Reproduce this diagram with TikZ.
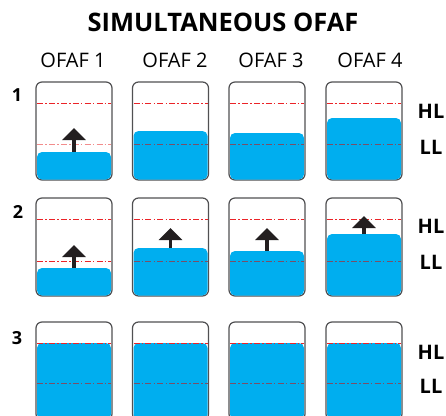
\documentclass[tikz,border=0pt]{standalone}
\usepackage{fontspec}
\setmainfont{Open Sans}
\definecolor{tankgray}{RGB}{80,80,82}
\definecolor{waterblue}{RGB}{0,174,239}
\definecolor{levelred}{RGB}{235,35,40}
\definecolor{levelpink}{RGB}{242,140,140}
\definecolor{leveldark}{RGB}{120,80,105}
\definecolor{arrowblack}{RGB}{35,31,32}
\usetikzlibrary{positioning,calc,arrows.meta}

\begin{document}
\begin{tikzpicture}[x=1pt,y=-1pt,
    tank/.style={draw=tankgray,line width=1.2pt,rounded corners=6pt,minimum width=76pt,minimum height=98pt,inner sep=0pt,outer sep=0pt},
    water/.style={fill=waterblue,rounded corners=5pt,minimum width=74pt,inner sep=0pt,outer sep=0pt,anchor=south},
    levelline/.style={draw=#1,line width=1pt,dash pattern=on 6pt off 2.2pt on 1.5pt off 2.2pt},
    rise/.style={draw=arrowblack,line width=3.6pt,-{Triangle[width=23pt,length=12pt]}},
    rowlabel/.style={font=\fontsize{18}{21}\selectfont\bfseries},
    sidelabel/.style={font=\fontsize{20}{24}\selectfont\bfseries},
    collabel/.style={font=\fontsize{20}{24}\selectfont}]
    \useasboundingbox (0,0) rectangle (446,415);

    \node[font=\fontsize{25.5}{30}\selectfont\bfseries] (title) at (223,22) {SIMULTANEOUS OFAF};
    \node[collabel] (ofaf1) at (73,60) {OFAF 1};
    \node[collabel] (ofaf2) at (175,60) {OFAF 2};
    \node[collabel] (ofaf3) at (271,60) {OFAF 3};
    \node[collabel] (ofaf4) at (370,60) {OFAF 4};

    % row 1
    \foreach \c/\x/\w/\lc in {1/74/152/levelpink,2/170.5/131/leveldark,3/267/133/leveldark,4/364/118/leveldark}{
        \node[tank] (t1\c) at (\x,131) {};
        \node[water,minimum height={179.5-\w}] (w1\c) at ($(t1\c.south)+(0,-0.5)$) {};
        \draw[levelline=levelred] ($(t1\c.north west)+(1,21.5)$) -- ($(t1\c.north east)+(-1,21.5)$);
        \draw[levelline=\lc] ($(t1\c.north west)+(1,62.5)$) -- ($(t1\c.north east)+(-1,62.5)$);
    }
    \coordinate (a11) at ($(w11.north)+(0,-24)$);
    \draw[rise] (w11.north) -- (a11);

    % row 2
    \foreach \c/\x/\w/\lc in {1/74/268/levelred,2/170.5/248/leveldark,3/267/251/leveldark,4/364/234/leveldark}{
        \node[tank] (t2\c) at (\x,247) {};
        \node[water,minimum height={295.5-\w}] (w2\c) at ($(t2\c.south)+(0,-0.5)$) {};
        \draw[levelline=levelred] ($(t2\c.north west)+(1,21.5)$) -- ($(t2\c.north east)+(-1,21.5)$);
        \draw[levelline=\lc] ($(t2\c.north west)+(1,63.5)$) -- ($(t2\c.north east)+(-1,63.5)$);
    }
    \foreach \c/\len in {1/23,2/20,3/23,4/18}{
        \coordinate (a2\c) at ($(w2\c.north)+(0,-\len)$);
        \draw[rise] (w2\c.north) -- (a2\c);
    }

    % row 3, cut by the lower edge
    \foreach \c/\x in {1/74,2/170.5,3/267,4/364}{
        \node[tank] (t3\c) at (\x,371) {};
        \node[water,minimum height=76.5] (w3\c) at ($(t3\c.south)+(0,-0.5)$) {};
        \draw[levelline=levelred] ($(t3\c.north west)+(1,21.5)$) -- ($(t3\c.north east)+(-1,21.5)$);
        \draw[levelline=leveldark] ($(t3\c.north west)+(1,61.5)$) -- ($(t3\c.north east)+(-1,61.5)$);
    }

    \node[rowlabel] (r1) at (17,95) {1};
    \node[rowlabel] (r2) at (18,212) {2};
    \node[rowlabel] (r3) at (17,338) {3};

    \node[sidelabel] (hl1) at (431,111) {HL};
    \node[sidelabel] (ll1) at (431,147) {LL};
    \node[sidelabel] (hl2) at (431,226) {HL};
    \node[sidelabel] (ll2) at (431,262) {LL};
    \node[sidelabel] (hl3) at (431,352) {HL};
    \node[sidelabel] (ll3) at (431,386) {LL};
\end{tikzpicture}
\end{document}
